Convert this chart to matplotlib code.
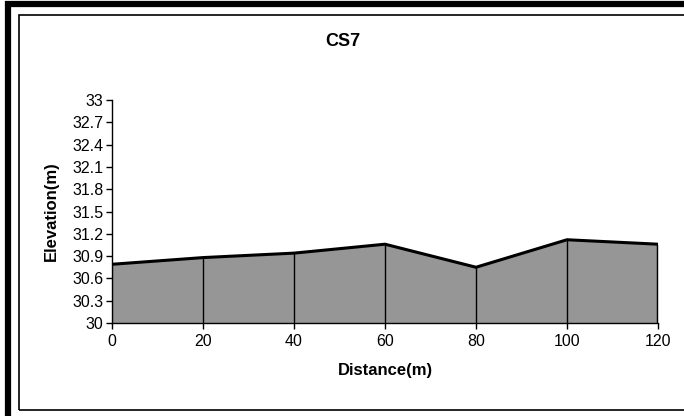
import matplotlib
matplotlib.use("Agg")
import matplotlib.pyplot as plt
from matplotlib.patches import Rectangle

distance = [0, 20, 40, 60, 80, 100, 120]
elevation = [30.79, 30.88, 30.94, 31.06, 30.75, 31.12, 31.06]
yticks = [30, 30.3, 30.6, 30.9, 31.2, 31.5, 31.8, 32.1, 32.4, 32.7, 33]
xticks = [0, 20, 40, 60, 80, 100, 120]

plt.rcParams['font.family'] = ['Liberation Sans', 'DejaVu Sans']

W, H = 684, 416
fig = plt.figure(figsize=(W / 100, H / 100), dpi=100)

# outer frame (thick) and inner frame (thin)
fig.add_artist(Rectangle((8 / W, -0.1), 2.0, (416 - 4) / H + 0.1, transform=fig.transFigure,
                         fill=False, lw=4.5, ec='black'))
fig.add_artist(Rectangle((18.5 / W, 1 - 409.5 / H), 2.0, (409.5 - 14.5) / H,
                         transform=fig.transFigure, fill=False, lw=1.2, ec='black'))

ax = fig.add_axes([112 / W, 1 - 323 / H, (658 - 112) / W, (323 - 100) / H])
ax.set_xlim(0, 120)
ax.set_ylim(30, 33)

ax.fill_between(distance, 30, elevation, color='#969696', lw=0, zorder=1)
ax.plot(distance, elevation, color='black', lw=2.2, zorder=3, solid_joinstyle='miter')
ax.vlines(distance[1:-1], 30, elevation[1:-1], color='black', lw=1.0, zorder=2)
ax.vlines([distance[0]], 30, elevation[0], color='black', lw=1.5, zorder=2)
ax.vlines([distance[-1]], 30, elevation[-1], color='black', lw=2.5, zorder=2)

for s in ['top', 'right']:
    ax.spines[s].set_visible(False)
for s in ['left', 'bottom']:
    ax.spines[s].set_linewidth(1.0)

ax.set_yticks(yticks)
ax.set_yticklabels([f"{v:g}" for v in yticks])
ax.set_xticks(xticks)
ax.tick_params(axis='both', direction='out', length=4, width=1, labelsize=11.5, pad=2)
ax.tick_params(axis='x', pad=4)
ax.patch.set_alpha(0)

ax.set_xlabel('Distance(m)', fontsize=12, fontweight='bold', labelpad=10)
ax.set_ylabel('Elevation(m)', fontsize=12, fontweight='bold', labelpad=10)
fig.text(343 / W, 1 - 42 / H, 'CS7', fontsize=13, fontweight='bold', ha='center', va='center')

fig.savefig('out.png', dpi=100)
